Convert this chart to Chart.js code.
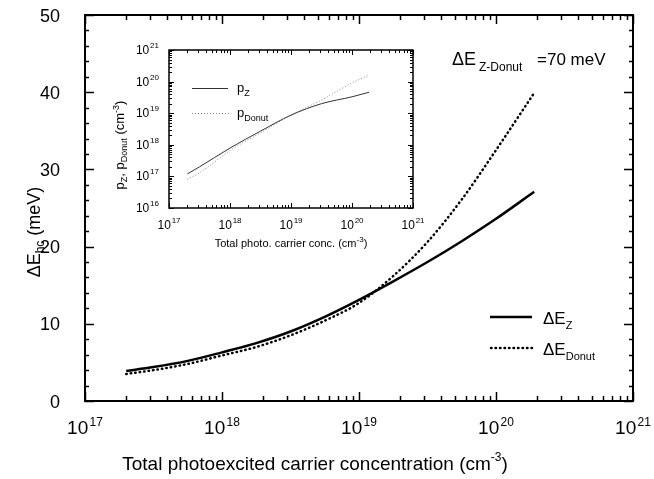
<!DOCTYPE html>
<html>
<head>
<meta charset="utf-8">
<script src="https://cdn.jsdelivr.net/npm/chart.js@4.4.1/dist/chart.umd.min.js"></script>
<style>
    html, body { margin: 0; padding: 0; background: #fff; }
    #wrap { position: relative; width: 654px; height: 479px; }
    #main { position: absolute; left: 0; top: 0; }
    #inset { position: absolute; left: 100px; top: 35px; }
</style>
</head>
<body>
<div id="wrap">
    <canvas id="main" width="654" height="479"></canvas>
    <canvas id="inset" width="340" height="220"></canvas>
</div>
<script>
// Total photoexcited carrier concentration (cm^-3)
var concentration = [2e17, 3.16e17, 5.62e17, 1e18, 1.78e18, 3.16e18, 5.62e18, 1e19, 1.78e19, 3.16e19, 5.62e19, 1e20, 1.9e20];
// Delta E_hc (meV)
var deltaEZ     = [3.9, 4.4, 5.2, 6.3, 7.5, 9.0, 10.9, 13.1, 15.5, 18.0, 20.7, 23.6, 27.1];
var deltaEDonut = [3.5, 4.0, 4.8, 5.9, 7.0, 8.5, 10.4, 12.7, 16.2, 20.6, 26.1, 32.5, 39.9];

// Inset: hole densities (cm^-3)
var insetConc = [2e17, 3.16e17, 1e18, 3.16e18, 1e19, 3.16e19, 1e20, 1.9e20];
var pZ        = [1.2e17, 2e17, 7.9e17, 2.7e18, 8.7e18, 2e19, 3.3e19, 4.6e19];
var pDonut    = [8.1e16, 1.3e17, 6.6e17, 2.4e18, 8.7e18, 2.6e19, 9.1e19, 1.6e20];

// Tick labels
var xDecades = [17, 18, 19, 20, 21];
var yTicksMain = [0, 10, 20, 30, 40, 50];
var insetYDecades = [16, 17, 18, 19, 20, 21];

var FONT = '"Liberation Sans", Arial, sans-serif';

function toPoints(xs, ys) {
    return xs.map(function(x, i) { return { x: x, y: ys[i] }; });
}

// Texto con sub/superíndices: parts = [[texto, tamaño, desplazamientoY]]
function richText(ctx, parts, x, y, align) {
    var w = 0;
    parts.forEach(function(p) {
        ctx.font = p[1] + 'px ' + FONT;
        w += ctx.measureText(p[0]).width;
    });
    var cx = align === 'center' ? x - w / 2 : (align === 'right' ? x - w : x);
    ctx.textAlign = 'left';
    ctx.textBaseline = 'alphabetic';
    parts.forEach(function(p) {
        ctx.font = p[1] + 'px ' + FONT;
        ctx.fillText(p[0], cx, y + (p[2] || 0));
        cx += ctx.measureText(p[0]).width;
    });
}

function logTicks(fromExp, toExp) {
    var list = [];
    for (var e = fromExp; e < toExp; e++) {
        for (var m = 1; m <= 9; m++) {
            list.push({ v: m * Math.pow(10, e), major: m === 1 });
        }
    }
    list.push({ v: Math.pow(10, toExp), major: true });
    return list;
}

function drawXTicks(ctx, scale, area, list, majLen, minLen) {
    list.forEach(function(t) {
        var px = Math.round(scale.getPixelForValue(t.v)) + 0.5;
        var len = t.major ? majLen : minLen;
        ctx.beginPath();
        ctx.moveTo(px, area.bottom);
        ctx.lineTo(px, area.bottom - len);
        ctx.moveTo(px, area.top);
        ctx.lineTo(px, area.top + len);
        ctx.stroke();
    });
}

function drawYTicks(ctx, scale, area, list, majLen, minLen) {
    list.forEach(function(t) {
        var py = Math.round(scale.getPixelForValue(t.v)) + 0.5;
        var len = t.major ? majLen : minLen;
        ctx.beginPath();
        ctx.moveTo(area.left, py);
        ctx.lineTo(area.left + len, py);
        ctx.moveTo(area.right, py);
        ctx.lineTo(area.right - len, py);
        ctx.stroke();
    });
}

// Decoración del gráfico principal: marco, ticks, etiquetas, leyenda
var mainDecor = {
    id: 'mainDecor',
    afterDraw: function(chart) {
        var ctx = chart.ctx;
        var a = chart.chartArea;
        var xs = chart.scales.x;
        var ys = chart.scales.y;
        ctx.save();
        ctx.strokeStyle = '#000';
        ctx.fillStyle = '#000';

        ctx.lineWidth = 2;
        ctx.strokeRect(a.left, a.top, a.right - a.left, a.bottom - a.top);

        ctx.lineWidth = 1.5;
        drawXTicks(ctx, xs, a, logTicks(17, 21), 9, 5);
        var yList = [];
        for (var v = 0; v <= 50; v += 2) yList.push({ v: v, major: v % 10 === 0 });
        drawYTicks(ctx, ys, a, yList, 9, 4);

        xDecades.forEach(function(e) {
            var px = xs.getPixelForValue(Math.pow(10, e));
            richText(ctx, [['10', 19], [' ', 5], [String(e), 12, -8]], px, 434, 'center');
        });
        yTicksMain.forEach(function(v) {
            var py = ys.getPixelForValue(v);
            richText(ctx, [[String(v), 18]], 60, py + 6.5, 'right');
        });

        richText(ctx, [['Total photoexcited carrier concentration (cm', 19], ['-3', 12, -9], [')', 19]], 315, 470, 'center');

        ctx.save();
        ctx.translate(34, 232);
        ctx.rotate(-Math.PI / 2);
        richText(ctx, [['\u0394E', 18], ['hc', 12, 4], [' (meV)', 18]], 0, 6, 'center');
        ctx.restore();

        // Anotación
        richText(ctx, [['\u0394E', 18]], 452, 65, 'left');
        richText(ctx, [['Z-Donut', 12]], 479, 71, 'left');
        richText(ctx, [['=70 meV', 17]], 537, 65, 'left');

        // Leyenda
        ctx.lineWidth = 2.5;
        ctx.beginPath();
        ctx.moveTo(490, 317);
        ctx.lineTo(532, 317);
        ctx.stroke();
        ctx.setLineDash([0.5, 4]);
        ctx.lineCap = 'round';
        ctx.beginPath();
        ctx.moveTo(491, 348);
        ctx.lineTo(532, 348);
        ctx.stroke();
        ctx.setLineDash([]);
        richText(ctx, [['\u0394E', 17], ['Z', 11, 5]], 543, 324, 'left');
        richText(ctx, [['\u0394E', 17], ['Donut', 11, 5]], 543, 355, 'left');

        ctx.restore();
    }
};

// Decoración del gráfico inset
var insetDecor = {
    id: 'insetDecor',
    afterDraw: function(chart) {
        var ctx = chart.ctx;
        var a = chart.chartArea;
        var xs = chart.scales.x;
        var ys = chart.scales.y;
        ctx.save();
        ctx.strokeStyle = '#000';
        ctx.fillStyle = '#000';

        ctx.lineWidth = 1.5;
        ctx.strokeRect(a.left, a.top, a.right - a.left, a.bottom - a.top);

        ctx.lineWidth = 1;
        drawXTicks(ctx, xs, a, logTicks(17, 21), 5, 3);
        drawYTicks(ctx, ys, a, logTicks(16, 21), 5, 3);

        xDecades.forEach(function(e) {
            var px = xs.getPixelForValue(Math.pow(10, e));
            richText(ctx, [['10', 12], [' ', 3], [String(e), 8, -6]], px, 194, 'center');
        });
        insetYDecades.forEach(function(e) {
            var py = ys.getPixelForValue(Math.pow(10, e));
            richText(ctx, [['10', 12], [' ', 3], [String(e), 8, -6]], 59, py + 4, 'right');
        });

        richText(ctx, [['Total photo. carrier conc. (cm', 11], ['-3', 8, -5], [')', 11]], 191, 212, 'center');

        ctx.save();
        ctx.translate(20, 110);
        ctx.rotate(-Math.PI / 2);
        richText(ctx, [['p', 13], ['Z', 9, 3], [', p', 13], ['Donut', 9, 3], [' (cm', 13], ['-3', 9, -5], [')', 13]], 0, 4, 'center');
        ctx.restore();

        // Leyenda del inset
        ctx.lineWidth = 1;
        ctx.strokeStyle = '#333';
        ctx.beginPath();
        ctx.moveTo(92, 53.5);
        ctx.lineTo(128, 53.5);
        ctx.stroke();
        ctx.strokeStyle = '#888';
        ctx.setLineDash([1, 2]);
        ctx.beginPath();
        ctx.moveTo(92, 78.5);
        ctx.lineTo(130, 78.5);
        ctx.stroke();
        ctx.setLineDash([]);
        richText(ctx, [['p', 13], ['Z', 9, 4]], 137, 57, 'left');
        richText(ctx, [['p', 13], ['Donut', 9, 4]], 137, 82, 'left');

        ctx.restore();
    }
};

new Chart(document.getElementById('main'), {
    type: 'line',
    data: {
        datasets: [{
            label: '\u0394E_Z',
            data: toPoints(concentration, deltaEZ),
            borderColor: '#000',
            borderWidth: 2.5,
            pointRadius: 0,
            fill: false,
            cubicInterpolationMode: 'monotone'
        }, {
            label: '\u0394E_Donut',
            data: toPoints(concentration, deltaEDonut),
            borderColor: '#000',
            borderWidth: 2.5,
            borderDash: [0.5, 4],
            borderCapStyle: 'round',
            pointRadius: 0,
            fill: false,
            cubicInterpolationMode: 'monotone'
        }]
    },
    options: {
        responsive: false,
        animation: false,
        devicePixelRatio: 1,
        layout: { padding: { left: 85, top: 15, right: 21, bottom: 78 } },
        plugins: { legend: { display: false }, tooltip: { enabled: false } },
        scales: {
            x: { type: 'logarithmic', min: 1e17, max: 1e21, display: false },
            y: { type: 'linear', min: 0, max: 50, display: false }
        }
    },
    plugins: [mainDecor]
});

new Chart(document.getElementById('inset'), {
    type: 'line',
    data: {
        datasets: [{
            label: 'p_Z',
            data: toPoints(insetConc, pZ),
            borderColor: '#333',
            borderWidth: 1,
            pointRadius: 0,
            fill: false,
            cubicInterpolationMode: 'monotone'
        }, {
            label: 'p_Donut',
            data: toPoints(insetConc, pDonut),
            borderColor: '#888',
            borderWidth: 1,
            borderDash: [1, 2],
            pointRadius: 0,
            fill: false,
            cubicInterpolationMode: 'monotone'
        }]
    },
    options: {
        responsive: false,
        animation: false,
        devicePixelRatio: 1,
        layout: { padding: { left: 69, top: 15, right: 27, bottom: 47 } },
        plugins: { legend: { display: false }, tooltip: { enabled: false } },
        scales: {
            x: { type: 'logarithmic', min: 1e17, max: 1e21, display: false },
            y: { type: 'logarithmic', min: 1e16, max: 1e21, display: false }
        }
    },
    plugins: [insetDecor]
});
</script>
</body>
</html>
